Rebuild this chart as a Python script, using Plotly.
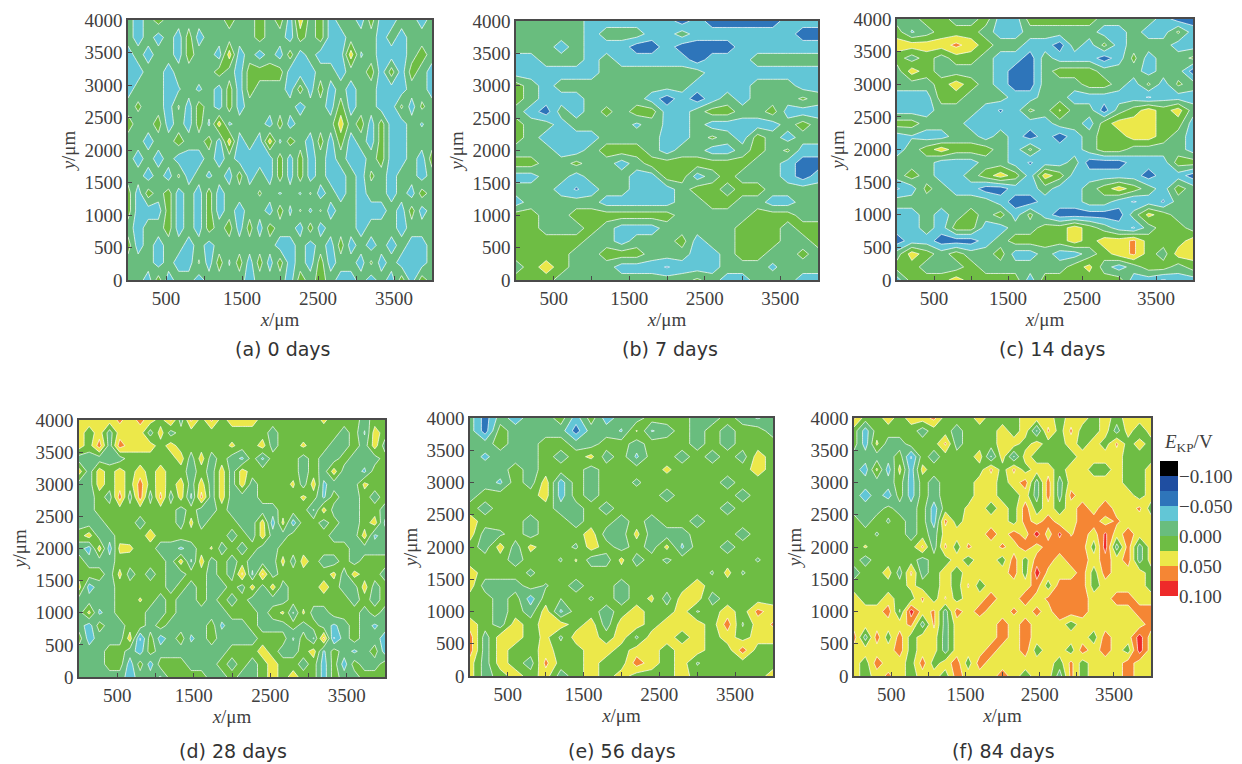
import plotly.graph_objects as go

# Band position at each grid node, first row = y 4000 (top).
# 1 navy, 2 blue, 3 cyan, 4 teal, 5 green, 6 yellow, 7 orange, 8 red; a band edge lies at n + 0.5,
# so a value such as 6.7 is a node only just into the next band (a tiny diamond on the map).
panel_a = [
[4,3,4,5,4,4,4,4,4,4,5,4,4,5,4,5,3,6,4,5,3,4,4,3,5,3,3,4,4,3,4],
[4,3,4,3,4,3,5,3,4,4,4,4,4,5,4,4,3,5,4,5,3,3,4,4,4,3,4,3,4,4,4],
[3,4,3,4,4,3,5,4,4,3,6,3,4,3,4,3,5,3,4,3,3,3,6,3.4,4,3,3,3,4,5,4],
[3,3,4,4,3,4,4,4,4,5,4,3,5,5,5,5,3,3,3,4,4,3,4,4,5,3,5,3,5,4,3],
[3,4,4,4,3,3.4,4,3.3,4,3,5,3,5,4,4,4,3,5,3,5,3,4,3,4,4,3,3,3,4,4,3],
[4,4.7,4,4,3,4.6,3,5,4,3,5,3,4,4,4,4,4,3,4,4,3,5,3,4,4,3,3,4.7,3,4.7,4],
[5,4,4,5,3,4,3,5,3.3,6,3.3,4,4,4,3,5,3,4,4,4,4,6,4,5,3,5,3,3,4,3.4,4],
[4,4,3,4,4,5,4,4,5,3,6,3,4,3,6,3.3,5,4,3,5,3,5,3,4,3,5,3,3,4,4,4],
[4,3,4,3,4,3,3,3,4,3,4,3,3,3,3,5,3,5,3,4,3,4,3,3,4,5,3,3,4,3,5],
[4,4,3,4,3,4.7,3,4,3.3,4,3,5,3,4,3,5,3,5,3,4,3,3,4,3,4.7,4,3,4,4,3,4],
[5,3,5,4,5,3,4,3,5,3,4,4,4,4.6,4,3.4,4,3.4,4.6,3,4,3,4,3,4,4,3,4,3,5,4],
[5,3,3,3,5,3,4,3,5,3,4,3,4,4,3,5,3.3,4.6,3.3,4.6,3,4,4,3,3,3,4,3,5,3,4],
[4,3,4,4,5,3,4,3,5,4,5,3,5,3,5,4,4,3,5,3,4,4,4,3,4,4,4,3,4,4,4],
[5,3,4,3,4,4,3,4,3,4,4,4,4,4,4,3,3,4,3,4,3,5,3,4,3,4,3,4,3,3,4],
[4,4,4,3,4,3,3,4.6,3,5,3.4,5,3,5,3,5,3,4,3,5,3,4,4,3,4.7,3,4,3,3,3,4],
[4,4,3,5,3,4,4,3,4,4,4,4,3,4,4,4,3,5,4,5,4,3,3,4,3,4,3,5,3,5,4],
]
panel_b = [
[4,4,4,4,4,3,3,3,3,3,3,2,3,2,2,2,2,2,3,3,3],
[4,4,4,4,4,3,4,4,4,3,3,4,3,3,3,3,3,3,3,2,2],
[4,4,4,3,4,3,3,3,2,2,3,2,2,2,2,3,3,3,3,3,3],
[3,3,4,4,4,3,4,3,3,3,3,3,2,3,3,3,4,4,4,4,4],
[3,3,3,3,3,3,4,4,4,4,4,4,4,3,3,3,3,3,3,3,3],
[5,4,3,4,4,4,4,4,4,4,4,4,3,3,3,3,4,4,4,3,3],
[5,4,3,3,3,4,4,4,4,3,2,3,2,3,4,3,4,4,4,4.7,4],
[4,3,2,4,3,4,4.8,4,5,5,3,3,4,5,5,4,4,5,3,3,3],
[5,4,4,3,4,4,4,4,3.3,4,3.3,3,4,3,3,3,3,3,4,5,4],
[5,4,3,3,3,3,4,4,4,4,3,3,4,4.7,4,3,5,4,3,4,4],
[4,4,4,3,3,4,5,5,5,4,3,4,4,3,3,4,5,4,4.7,3,3],
[5,5,4,4,4.8,4,4,3,4,5,5,5,5,5,5,5,4,4,3,2,2],
[3,3,4,4,3,4,4,4,3,3,5,5,3,4,5,4,4,4,3,2,3],
[4,4,4,3,2.4,3,4,4,3,3,3,4,5,5,4,5,5,4,4,4,4],
[3,4,4,4,4,4,3,3,3,3,3,4,4,5,5,4,4,3,3,4,4],
[5,5,4,4,5,5,5,5,5,5,5,4,4,4,4,4,5,5,5,4,4],
[5,5,4,4,4,5,4,3,3,3,4,4,4,4,4,5,5,5,4,5,5],
[5,5,5,5,5,4,4,3,4,4,4,5,3,4,4,5,5,5,4,4,5],
[5,5,5,5,4,4,5,5,5,4,4,4,3,3,4,5,5,4,4,4.8,4],
[4,5,6,5,4,4,4,3,3,3,2.4,3,3,3,4,4,4,3.3,4,4,4],
[5,5,5,4,4,4,4,4,4,4,4,4,4.7,4,3,3,4,4,4,3,3],
]
panel_c = [
[4,4,5,5,4,4,5,3,3,5,5,5,5,5,4,4,4,4,3,2,2],
[5,3.4,4,5,5,5,4,3,3,4,4,4,4,4,3,3,4,3,3,4.7,3],
[6,6,6,6,6.8,6,5,4,4,3,3,2,4,3,4.8,3,4,4,4,3,3],
[5,4,5,4,5,5,4,3,3,2,4,3,3,3,2,3,4.8,3,4,4,4.7],
[4,6,5,4,4,4,4,3,2,2,4,5,5,5,4,4,4,3,4,4,2],
[4,4,4,5,6,5,4,3,2,2,4,4,4,5,5,4,3,4.7,3,4.7,4],
[3,3,3,5,5,4,4,4,3,3,4,4,3,3,3,3,3,2.4,3,3,3],
[3,3,3,4,4,4,3,2.4,3,4.7,4,5.6,4,4,2,4,5,6,5,6,4],
[5,5,4,4,4,3,3,3,3,3,3,4,4,3,5,6,6,6,5,5,3],
[3,3.4,3,3,4,4,3,4,3,2,3,2,3,4,5,5,6,6,5,4,3],
[3,4,5,6,5,5,5,4,3,4.7,3,3,3,4,5,5,4,4,4,4,3],
[4,4,4,3,3,3,4,4,3,2.4,3,3,4,2,2,2,3,3,3,5,5],
[4,5,4,3,3,4,5,6,5,3,6,5,3,3,3,3,3,2,3,3,2],
[2.4,3,4.8,4,3,3,2,2,3,3,4,3,3,4,5,6,5,4,3,5,4],
[4,4,4,4,4,4,4,3,2,2,3,3,3,4,4,3,2.4,3,2.4,4,4],
[3,3,4,3,4,5,4,5,3,4.8,3,2,2,2,2,2,4,5.8,5,4,4],
[3,3,4,3,5,5,3,3,4,4,5,5,6,5,4,3,2.4,4,5,5,4],
[2,3,3,2,2,2,3,4,5,5,5,5,6,5,6,6,6.7,5,5,5,6],
[4,6,5,4,5,4,4,5,3,3,4,3,3,4,5,6,6.7,5,4,6,6],
[5,5,4,4,4,5,4,4,4,4,4,4,5,5.8,4,3,4,5,5,4,5],
[3,5,5,5,6,5,5,5,5,3,5,5,5,5,5,5,3,3,2.4,3,3],
]
panel_d = [
[6,6,6,6,6.7,6,6.8,6,5,6.7,4,6.7,5,6.7,5,6,6,6,5,5,5,5,5,5,5.7,5,5,5,4,5,5],
[6,5,6,4,6,6,6,4,6,4,5,5,5,5,5,5,5,5,5,4,5,5,5,5,5,5,4,5,3.4,6,5],
[6,5,7,4,7,6,6,6,5,6,5,5,5,5,5,5.7,5,5,6,4,5,5,5.7,5,5,4,4,5,4,6,4],
[4,4,4,4,4,5,5,5,5,5,6,4,6,4,5,4,3.3,5,3.3,5,5,5,4,5,4,4,5,4,4,4,5],
[6,4,6,5,6,5,6,5,6,5,5,4,5,4,6,4,6,5,5,5,5,5,4,5,4,6,4,4,3.3,5,5],
[4,4,6,5,6,5,7,5,6,5,6,4,6,4,6,4,6,4,5,5,5,5.7,4,6,3.3,4,4,4,5.8,5,5],
[4,4,5,4,7,4,7,4,6.8,4,6,3.3,6.8,4,6,4,4,4,5,5,5,5,5.7,5,3.3,5,4,4,5,4,5],
[4,4,5,5,5,5,5,5,5,5,4,5,4,4,5,4,4,4,4,4,5,5,5,3.4,6,4,4,4,5,5,4],
[4,4,4,5,5,5,4,5,5,5,4,5.8,4,5,5,5,4,4,6,3,5.8,3,5,5,4,5,4,4,5,6,3.3],
[5,6,4,4,5,5,5,6,5,5,5,5,5,5,5,4,5,4,6,4,4,5,5,5,5,4,4,4,6,3.3,4],
[4,3,6,3,5.8,5.7,5,5,4,4,3.3,4,5,5.6,4,5,4,5,4,4,5,5,5,5,5,5,5,4,4,4,4],
[5,4,4,4,5,5,5,5,5,4,6,3.4,6,4,5,4,5,4,4,4,5.8,4,6,5,4,4,5,4,5,5,5],
[5,5,5,4,5.8,4,5,4,5,4,4,5,5,4,5,4,6.7,3.3,6.7,4,5,5,5,5,5,5.8,4,6,5,5,4],
[6,3,4,4,5,5,5,5,5,4,5,4,5,4,4,5,4,6,4,6,4,5,5,5,6,5,4,4,6,4,5],
[4,4,4,4,5,5,5.6,5,4,5,4,4,5,4,5,4,5,4,4,4,4,5,5,5,5,5,5,4,5,4,5],
[4,5.8,3.3,4,5,5,5,4,4,5,4,4,4,4,4,5,5,5,4,5,5.7,3.4,5.7,4,4,5,5,5,4,5,4],
[4,3,5,4,4,5,5,4,5,4,4,4,4,5,3.3,4,4,5,4,4,4,5,4,5,4,3.3,4,5,4,3.3,4],
[5,3,4,4,4,6,2.4,5,3,4,5,3.3,4,5,4,4,4,4,5,5,5,3.4,5,3.4,6.8,2.4,4,5,4,4,3],
[4,4,4,5,5,4,3,5,4,4,4,4,4,4,4,5,5,5,6,5,4,4,5,6,3.3,5,4,3.3,4,5,3],
[4,4,4,5,5,3,5,3,5,5,5,4,4,4,5,4,5,4,5,6,5,5,4,5,3,5,3,5,4,4,5],
[4,4,4,4,4,3,4,4,3.4,5,5,5,5,4,4,5,4,4,5,6,5,6,5,5,3,5,4,4,5,5,5],
]
panel_e = [
[4,2,4,3,4,4,5,3,5,3,4,4,5,5,5,4,4,5,4,3.4,4],
[4,2,5,4,4,4,4,2,4,4,3.4,5.6,3.4,4,5,4,5,4,5,5,4],
[4,4,5,4,4,5,5,4,4,5,5,4,5,5,5,4,5,4,5,5,5],
[4,3.3,4,4,4,5,4,5,5.8,4,5,3.3,5,5,4,5,4,5,4,6,5],
[4,4,4,5,4,5,5,5,4,5,5,5,5,5.7,5,5,5,5,5,6,5],
[4,4,3.3,5,4,6,3,5,4,5,5,4.3,5,5,5,5,5,4,5,5,5],
[4,5,5,5,5,6,3,5,4,5,5,5,5,4,5,5,5,5,4,5,5],
[5,4,5,5,5,5,4,4,5,4,5,5,5,5,5,5,5,4,5,5,5],
[6,5,5,5,4,5,5,4,5,5,4,5,4,5,5,4,5,5,5,5,5],
[6,4,4.3,5,4,5,5,5,6,4,4,5.8,4,4,4,5,5,5,4,5,5],
[5,4,6,4,5.8,5,5,4.3,6,5,4,5,4,5.8,3.3,5,5,4,5,5,5],
[5,5,5,4,5,5,4.4,5.6,4,4,5.8,4,5,4.3,5,5,5,5,5,4.4,5],
[6,5,5,5,4.3,5,5,5,5,5,5,5,5,5,5,5,4.4,5.8,4.4,5,5],
[6,4,4,4,5,4.4,5,4,5,5,4,5,5,5,5,6,5,5,5,5,5],
[5,5,4,5,3,5,4.5,5,4.4,5,4,5,5.7,4,6,6,4,5,5,5,5],
[5,5,4,5,4,6,3.3,5,5,4,5,6,5,5,6,4.4,5,6,5,6.8,6],
[6,5,4,6,5,6,6,5,6,4,6,6,5,6,6,6,5,7,4.4,6,6.6],
[7,4,6,6,5,5.8,4.3,6,6,5,6,4.3,6,6,5,6,5,6,5,6,6],
[7,4,6,5,5,6,5,5,6,6,5,6,6,5,6,6,5,5,7,5,5],
[6,4,6,5,4,6.8,5,5,6,5,5,7,6,5,6,4.4,5,5,5,5,5],
[6,4,5,6,5,6,4,5,6,5,6,5,5,5,6,5,5,5,5,5,6],
]
panel_f = [
[6.7,5,5,6,5,6,6,6.8,5,5,5,6,5,5,5,6,6,6,5,6,6,5,6,5,6,6,6],
[5,3,5,5,5,5,4,5,5,4,5,5,5,6,5,6,3.4,6.7,5,6.7,5,5,6,4,6,4.7,6],
[5,3,5.7,4,4,5,5,5,6.7,4,5,5,5,6,6,5,6,5,5,6,5,6,5,6.7,5,6,5],
[4,4,4,4,5,2.4,5,4,5,5,5,6,3.4,6,3.4,6,5,5,5,5,6,6,6,6,5,5,5],
[4,3,5.7,3,5.8,3,5.8,5,5,5,5,5,6.7,5,6.7,5,6,6,5,6,6,5,5,6,5,5,6],
[4,4,4,4,5,3,5,4,5,5,5,6,6,5,6,7,4,7,4,6,6,6,6,6,5,5,6],
[4,3,4,3,5,3,5,4,5,5,5,6,6,5,5,6,4,7,4,6.8,6,6,6,6,6,5,6],
[4,4,4,4.8,4,4,5,3,5,5,5.7,6,5,6,5,7,5,6,5,6,7,6,7.3,6,6,6.7,5],
[5,4,5,4.4,5,4,5,3,6.8,5,6,6,6,6,5,7,6,7,6,6,7,7,6,6.7,6,6,6],
[5,5,4.4,5,5,4,5,4,6,6,6,6,7,6,7,6,8,6,7.7,6.4,7,6,7.7,6,7,6,6],
[5,5.6,5,5,5,5,6.7,4,6.7,5,6.7,6,6,6.7,6,7.2,6,7,7,7,7,5,8,4,7,4,6],
[5,4,5,5,5,5,4,5,5,6,5,6,6,5,7,5,7,7,6,7,7,6,7,6,7,4,6],
[4,5,5,6,4,6.7,4,5,6,5,6,6,6,6,7,5,8,6.2,6,6,7,5,7,6,6,6,5],
[5,5,5,5,5,5.8,5,5,6,5,6.6,5,6,6,6,6,7,5,7,7,7,5,6,6,6,6,5],
[6,5,5,6,5,5,6.7,5,6.6,5,6,6,7,6,6,7.1,6,6.7,7,7,7,6,6,7,7,6,6],
[6,6,6,7,4.4,8,6,6.7,4,7,6,7,6,6,6.7,6,6.8,6,7.5,7,7,6,6,6,6,7,7],
[6,6,6,6,6,6.8,4,6.7,4,6,6,5.7,6,7,6,7,6,6,6,5,6,6,6,6,6,6,7],
[7,4,7,5,7,5,6,6,4,6,6,6,6,7,6,7,6,6,6,6,6,5,7,6,6,8,6],
[6,6,6,6,7,5,6,6,4,6,6,6,7,6,6,7,5,6,6,5,7,6,7,6,5,8,6],
[6,5,7,6,6,5,7,5,6,7,5,7,6,6,6,6,6,6,5,6.8,5,6,6,6,7,6,6],
[6,5,6,6.7,6,5,6,6,5,7,6,6,6,7,6,5,6,6,4,6.8,5,6,6,6,7,6,6],
]
panels = [panel_a, panel_b, panel_c, panel_d, panel_e, panel_f]
captions = ["(a) 0 days", "(b) 7 days", "(c) 14 days", "(d) 28 days", "(e) 56 days", "(f) 84 days"]
band_colors = ["#000000", "#1f4ea1", "#2e75ba", "#62c6d6", "#69bd7e", "#6ebd44", "#ece84a", "#f58634", "#ee2a2a"]
level_ticks = [-0.1, -0.05, 0.0, 0.05, 0.1]
level_text = ["−0.100", "−0.050", "0.000", "0.050", "0.100"]
x_tickvals = [500, 1500, 2500, 3500]
x_ticktext = ["500", "1500", "2500", "3500"]
x_minorvals = [1000, 2000, 3000]
y_tickvals = [0, 500, 1000, 1500, 2000, 2500, 3000, 3500, 4000]
y_ticktext = ["0", "500", "1000", "1500", "2000", "2500", "3000", "3500", "4000"]

# plot rectangles in pixels: left, right, top, bottom
boxes = [(128, 432, 20, 280), (516, 818, 21, 280), (897, 1193, 19, 280),
         (79, 385, 420, 677), (470, 773, 418, 676), (854, 1151, 418, 676)]
caption_pos = [(282, 349), (670, 349), (1052, 349), (233, 751), (622, 751), (1003, 751)]
W, H = 1242, 764
SERIF = "Liberation Serif"
INK = "#404040"

def volts(i):
    return -0.125 + 0.025 * i + 0.0125

for name, p in zip("abcdef", panels):
    for k, row in enumerate(p):
        if len(row) != len(p[0]):
            raise ValueError(f"panel {name} row {k} has {len(row)} values, not {len(p[0])}")

fig = go.Figure()
scale = [[i / 8, c] for i, c in enumerate(band_colors)]
layout = {}
for n, (grid, box) in enumerate(zip(panels, boxes), start=1):
    rows = grid[::-1]
    nx, ny = len(rows[0]), len(rows)
    xs = [4000 * i / (nx - 1) for i in range(nx)]
    ys = [4000 * j / (ny - 1) for j in range(ny)]
    z = [[volts(v) for v in r] for r in rows]
    fig.add_trace(go.Contour(
        x=xs, y=ys, z=z, xaxis=f"x{n}", yaxis=f"y{n}",
        colorscale=scale, showscale=False, zauto=False, zmin=-0.125, zmax=0.1,
        autocontour=False,
        contours=dict(start=-0.1, end=0.075, size=0.025, coloring="fill"),
        line=dict(color="rgba(255,255,255,0.72)", width=1, smoothing=0),
        hoverinfo="skip"))
    l, r, t, b = box
    dom_x = [l / W, r / W]
    dom_y = [1 - b / H, 1 - t / H]
    common = dict(showgrid=False, zeroline=False, showline=True, mirror=True, automargin=False,
                  linecolor="#4a4a4a", linewidth=1.5, ticks="inside", ticklen=4,
                  tickcolor="#4a4a4a", tickfont=dict(family=SERIF, size=19, color=INK),
                  range=[0, 4000])
    title_font = dict(family=SERIF, size=19, color=INK)
    layout[f"xaxis{n}"] = dict(common, domain=dom_x, anchor=f"y{n}", tickmode="array",
                               tickvals=x_tickvals, ticktext=x_ticktext,
                               minor=dict(tickmode="array", tickvals=x_minorvals, ticks="inside",
                                          ticklen=4, tickcolor="#4a4a4a", showgrid=False),
                               title=dict(text="<i>x</i>/μm", standoff=0, font=title_font))
    layout[f"yaxis{n}"] = dict(common, domain=dom_y, anchor=f"x{n}", tickmode="array",
                               tickvals=y_tickvals, ticktext=y_ticktext,
                               title=dict(text="<i>y</i>/μm", standoff=4, font=title_font))

# colour key drawn as its own small heatmap so that -0.100 sits on top
key_y = [-0.1125 + 0.025 * i for i in range(9)]
fig.add_trace(go.Heatmap(
    x=[0], y=key_y, z=[[volts(i)] for i in range(9)], xaxis="x7", yaxis="y7",
    colorscale=[[s, c] for i, c in enumerate(band_colors)
                for s in (i / 9, (i + 1) / 9)],
    zmin=-0.125, zmax=0.1, showscale=False, hoverinfo="skip"))
layout["xaxis7"] = dict(domain=[1160 / W, 1178 / W], anchor="y7", visible=False, range=[-0.5, 0.5],
                        automargin=False)
layout["yaxis7"] = dict(domain=[1 - 596 / H, 1 - 461 / H], anchor="x7", side="right", automargin=False,
                        range=[0.1, -0.125], showgrid=False, zeroline=False, showline=False,
                        ticks="", tickmode="array", tickvals=level_ticks, ticktext=level_text,
                        tickfont=dict(family=SERIF, size=19, color=INK))

notes = [dict(text=c, x=px / W, y=1 - py / H, xref="paper", yref="paper", showarrow=False,
              xanchor="center", yanchor="middle",
              font=dict(family="DejaVu Sans", size=19, color="#333333"))
         for c, (px, py) in zip(captions, caption_pos)]
notes.append(dict(text="<i>E</i><sub>KP</sub>/V", x=1162 / W, y=1 - 443 / H, xref="paper", yref="paper",
                  showarrow=False, xanchor="left", yanchor="middle",
                  font=dict(family=SERIF, size=19, color=INK)))

fig.update_layout(width=W, height=H, margin=dict(l=0, r=0, t=0, b=0), autosize=False,
                  paper_bgcolor="white", plot_bgcolor="white", showlegend=False,
                  annotations=notes, **layout)
fig.write_html("out.html", config={"displayModeBar": False},
               post_script="document.body.style.margin='0';document.body.style.overflow='hidden';")
